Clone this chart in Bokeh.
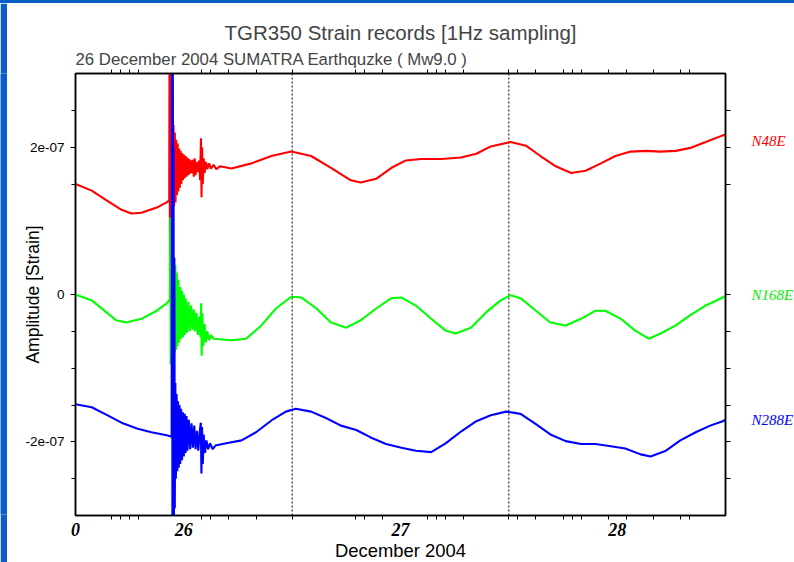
from bokeh.plotting import figure
from bokeh.layouts import row, column
from bokeh.models import (Range1d, LinearAxis, FixedTicker, Span, Title, Grid,
                          ColumnDataSource, Spacer)
from bokeh.core.properties import value
from bokeh.embed import file_html
from bokeh.resources import INLINE

# ---------------- data (time in hours from 26 Dec 00:00, strain in 1e-7) ----------------
red_t = [0.0, 1.8, 3.4, 5.1, 6.2, 7.3, 9.0, 10.1, 10.38,
         10.42, 10.46, 10.50, 10.55, 10.60, 10.66, 10.72, 10.78, 10.85, 10.92,
         11.00, 11.08, 11.16, 11.24, 11.32, 11.40, 11.48, 11.56, 11.64, 11.72,
         11.80, 11.90, 12.00, 12.10, 12.20, 12.30, 12.40, 12.50, 12.60, 12.70,
         12.80, 12.90, 13.00, 13.10, 13.20, 13.30, 13.40, 13.55, 13.70, 13.80,
         13.90, 13.96, 14.02, 14.10, 14.20, 14.30, 14.45, 14.60, 14.80, 15.00,
         15.30, 15.60, 16.00,
         17.25, 19.5, 21.7, 23.9, 26.1, 28.3, 30.5, 31.6, 33.3, 35.0,
         36.6, 38.3, 40.5, 42.7, 44.4, 46.0, 48.2, 49.9, 51.5, 53.2,
         54.9, 56.5, 58.2, 59.8, 61.5, 63.2, 64.8, 66.5, 68.1, 69.8,
         71.7, 72.0]
red_v = [1.50, 1.41, 1.28, 1.15, 1.10, 1.11, 1.18, 1.25, 1.28,
         4.0, 0.30, 4.0, 0.6, 3.2, 0.9, 2.6, 1.0, 2.3, 1.2,
         2.2, 1.25, 2.1, 1.35, 2.05, 1.4, 1.98, 1.45, 1.95, 1.5,
         1.92, 1.55, 1.9, 1.58, 1.88, 1.6, 1.86, 1.62, 1.84, 1.64,
         1.82, 1.65, 1.83, 1.60, 1.85, 1.62, 1.80, 1.66, 1.82, 1.55,
         2.12, 1.32, 2.0, 1.5, 1.85, 1.65, 1.80, 1.70, 1.78, 1.71,
         1.76, 1.70, 1.74,
         1.71, 1.78, 1.88, 1.94, 1.88, 1.72, 1.55, 1.52, 1.57, 1.72,
         1.82, 1.84, 1.84, 1.86, 1.91, 2.01, 2.07, 2.02, 1.88, 1.74,
         1.65, 1.68, 1.78, 1.88, 1.94, 1.95, 1.94, 1.95, 1.99, 2.07,
         2.16, 2.17]

green_t = [0.0, 1.8, 3.4, 4.5, 5.6, 7.3, 9.0, 10.1, 10.45,
           10.50, 10.55, 10.62, 10.68, 10.75, 10.82, 10.90, 10.98, 11.06, 11.14,
           11.22, 11.30, 11.40, 11.50, 11.60, 11.70, 11.80, 11.90, 12.00, 12.10,
           12.20, 12.35, 12.50, 12.65, 12.80, 12.95, 13.10, 13.25, 13.40, 13.55,
           13.70, 13.85, 13.92, 13.98, 14.05, 14.15, 14.30, 14.45, 14.60, 14.80,
           15.00, 15.30,
           17.25, 18.9, 20.6, 22.2, 23.9, 25.0, 26.7, 28.3, 30.0, 31.6,
           33.3, 35.0, 36.1, 37.7, 39.4, 41.0, 42.1, 43.8, 45.5, 47.1,
           48.2, 49.3, 51.0, 52.6, 54.3, 56.0, 57.6, 58.7, 60.4, 62.0,
           63.5, 64.8, 66.5, 68.1, 69.8, 71.7, 72.0]
green_v = [0.0, -0.08, -0.24, -0.35, -0.38, -0.33, -0.22, -0.12, -0.07,
           1.05, -0.95, 1.0, -0.9, 0.7, -0.85, 0.5, -0.8, 0.4, -0.75,
           0.3, -0.7, 0.2, -0.65, 0.1, -0.6, 0.05, -0.58, 0.0, -0.55,
           -0.05, -0.52, -0.1, -0.5, -0.15, -0.48, -0.2, -0.5, -0.25, -0.55,
           -0.3, -0.58, -0.12, -0.83, -0.25, -0.7, -0.4, -0.65, -0.5, -0.62,
           -0.55, -0.6,
           -0.62, -0.60, -0.42, -0.19, -0.03, -0.04, -0.19, -0.38, -0.45, -0.35,
           -0.19, -0.05, -0.04, -0.15, -0.33, -0.49, -0.53, -0.45, -0.24, -0.08,
           -0.01, -0.05, -0.22, -0.38, -0.42, -0.33, -0.22, -0.22, -0.33, -0.49,
           -0.60, -0.53, -0.42, -0.28, -0.15, -0.04, -0.02]

blue_t = [0.0, 1.8, 3.4, 5.1, 6.8, 8.4, 10.1, 10.65,
          10.70, 10.74, 10.78, 10.82, 10.86, 10.90, 10.95, 11.00, 11.06, 11.12,
          11.20, 11.28, 11.36, 11.44, 11.52, 11.60, 11.70, 11.80, 11.90, 12.00,
          12.10, 12.20, 12.30, 12.40, 12.55, 12.70, 12.85, 13.00, 13.15, 13.30,
          13.45, 13.60, 13.75, 13.88, 13.95, 14.02, 14.10, 14.20, 14.35, 14.50,
          14.70, 14.90, 15.20, 15.50,
          16.7, 18.4, 20.0, 21.7, 23.3, 24.4, 26.1, 27.8, 29.4, 31.1,
          32.7, 34.4, 36.1, 37.7, 39.4, 41.0, 42.7, 44.4, 46.0, 47.7,
          49.3, 51.0, 52.6, 54.3, 56.0, 57.6, 59.3, 60.9, 62.6, 63.7,
          65.4, 67.0, 68.7, 70.3, 71.7, 72.0]
blue_v = [-1.49, -1.53, -1.63, -1.74, -1.82, -1.87, -1.91, -1.93,
          4.0, -4.0, 4.0, -4.0, 2.0, -3.5, 0.5, -2.9, -1.2, -2.5,
          -1.35, -2.4, -1.45, -2.35, -1.5, -2.3, -1.55, -2.25, -1.6, -2.2,
          -1.62, -2.15, -1.65, -2.12, -1.7, -2.1, -1.75, -2.08, -1.78, -2.1,
          -1.85, -2.12, -1.88, -1.74, -2.43, -1.8, -2.3, -1.9, -2.15, -1.98,
          -2.1, -2.02, -2.1, -2.05,
          -2.02, -1.98, -1.87, -1.71, -1.59, -1.55, -1.59, -1.68, -1.78, -1.84,
          -1.94, -2.03, -2.08, -2.12, -2.14, -2.02, -1.86, -1.72, -1.64, -1.59,
          -1.62, -1.76, -1.90, -1.99, -2.03, -2.03, -2.06, -2.09, -2.17, -2.20,
          -2.12, -1.98, -1.87, -1.78, -1.72, -1.70]

x_label_pos = [0, 12, 36, 60]
x_label_txt = ["0", "26", "27", "28"]
x_minor = [4, 5, 6, 7, 14, 15, 17, 20, 24, 31, 32, 34, 39, 40, 41, 43,
           48, 49, 51, 54, 55, 56, 59, 61, 64, 67, 68]
day_lines = [24, 48]
y_label_pos = [-2, 0, 2]
y_label_txt = ["-2e-07", "0", "2e-07"]
y_minor = [2.5, 1.5, -0.5, -1.0, -1.5, -2.5]

channels = ["N48E", "N168E", "N288E"]
channel_y = [2.09, 0.0, -1.71]
channel_col = ["#ff0000", "#00ee00", "#0000ff"]

# ---------------- styling constants ----------------
SANS = "Liberation Sans"
SERIF = "Liberation Serif"
SLIDE_BLUE = "#0a5fc6"
TOP_STRIP, LEFT_STRIP = 3, 7
BORDER_TOP, BORDER_BOTTOM = 70, 47
FRAME_W, FRAME_H = 650, 442
MAIN_LEFT, MAIN_RIGHT = 68, 10
RIGHT_W = 794 - LEFT_STRIP - MAIN_LEFT - FRAME_W - MAIN_RIGHT
LABEL_INSET = 16


def strip(w, h):
    f = figure(width=w, height=h, min_border=0, toolbar_location=None,
               x_axis_location=None, y_axis_location=None, title=None,
               output_backend="svg", outline_line_color=None,
               background_fill_color=SLIDE_BLUE, border_fill_color=SLIDE_BLUE)
    f.center = [r for r in f.center if not isinstance(r, Grid)]
    return f


# ---------------- main figure ----------------
p = figure(frame_width=FRAME_W, frame_height=FRAME_H,
           x_range=Range1d(0, 72), y_range=Range1d(-3, 3),
           output_backend="svg", toolbar_location=None,
           x_axis_location=None, y_axis_location=None, title=None,
           min_border_left=MAIN_LEFT, min_border_right=MAIN_RIGHT,
           min_border_top=BORDER_TOP, min_border_bottom=BORDER_BOTTOM,
           background_fill_color="white", border_fill_color="white",
           outline_line_color="black", outline_line_width=1.5)
p.center = [r for r in p.center if not isinstance(r, Grid)]

xb = LinearAxis(ticker=FixedTicker(ticks=x_label_pos, minor_ticks=x_minor),
                major_label_overrides={k: v for k, v in zip(x_label_pos, x_label_txt)},
                axis_label="December 2004", axis_label_text_font=SANS,
                axis_label_text_font_size="18.4px", axis_label_text_font_style="normal",
                axis_label_standoff=1, axis_label_text_color="black",
                major_label_text_font=SERIF, major_label_text_font_style="bold italic",
                major_label_text_font_size="18px", major_label_standoff=3,
                major_tick_out=0, major_tick_in=0, minor_tick_out=4, minor_tick_in=0,
                axis_line_width=1.5, major_label_text_color="black")
p.add_layout(xb, "below")

# top axis: ticks only (no major ticks -> no labels)
xa = LinearAxis(ticker=FixedTicker(ticks=[], minor_ticks=x_minor),
                major_label_standoff=0, major_tick_out=0, major_tick_in=0,
                minor_tick_out=4, minor_tick_in=0, axis_line_width=1.5)
p.add_layout(xa, "above")

yl = LinearAxis(ticker=FixedTicker(ticks=y_label_pos, minor_ticks=y_minor),
                major_label_overrides={k: v for k, v in zip(y_label_pos, y_label_txt)},
                major_label_text_font=SANS, major_label_text_font_size="13.5px",
                major_label_standoff=6, major_label_text_color="black",
                major_tick_out=5, major_tick_in=0, minor_tick_out=4, minor_tick_in=0,
                axis_line_width=1.5,
                axis_label="Amplitude [Strain]", axis_label_text_font=SANS,
                axis_label_text_font_size="17.5px", axis_label_text_font_style="normal",
                axis_label_text_color="black", axis_label_standoff=-21)
p.add_layout(yl, "left")

# right axis: ticks only
yr = LinearAxis(ticker=FixedTicker(ticks=[], minor_ticks=y_label_pos + y_minor),
                major_label_standoff=0, major_tick_out=0, major_tick_in=0,
                minor_tick_out=5, minor_tick_in=0, axis_line_width=1.5)
p.add_layout(yr, "right")

p.add_layout(Title(text="26 December 2004 SUMATRA Earthquzke ( Mw9.0 )", align="left",
                   text_font=SANS, text_font_size="16.8px", text_font_style="normal",
                   standoff=2), "above")
p.add_layout(Title(text="TGR350 Strain records [1Hz sampling]", align="center",
                   text_font=SANS, text_font_size="20.5px", text_font_style="normal",
                   standoff=6), "above")

for d in day_lines:
    p.add_layout(Span(location=d, dimension="height", line_color="black",
                      line_width=1, line_dash="2 2", level="underlay"))

p.line(red_t, red_v, line_color="#ff0000", line_width=2.1)
p.line(green_t, green_v, line_color="#00ff00", line_width=2.1)
p.line(blue_t, blue_v, line_color="#0000ff", line_width=2.1)

# ---------------- right-hand channel names (same vertical scale) ----------------
pr = figure(width=RIGHT_W, frame_height=FRAME_H,
            x_range=Range1d(0, RIGHT_W), y_range=Range1d(-3, 3),
            output_backend="svg", toolbar_location=None,
            x_axis_location=None, y_axis_location=None, title=None,
            min_border_left=0, min_border_right=0,
            min_border_top=BORDER_TOP, min_border_bottom=BORDER_BOTTOM,
            outline_line_color=None, background_fill_color="white",
            border_fill_color="white")
pr.center = [r for r in pr.center if not isinstance(r, Grid)]
src = ColumnDataSource(dict(x=[LABEL_INSET] * len(channels), y=channel_y,
                            text=channels, color=channel_col))
pr.text(x="x", y="y", text="text", text_color="color", source=src,
        text_font=value(SERIF), text_font_style="italic", text_font_size="15px",
        text_align="left", text_baseline="middle")

main_h = BORDER_TOP + FRAME_H + BORDER_BOTTOM
top_strip = Spacer(width=794, height=TOP_STRIP,
                   styles={"background-color": SLIDE_BLUE})
layout = column(top_strip,
                row(strip(LEFT_STRIP, main_h), p, pr, spacing=0),
                spacing=0)

open("out.html", "w").write(file_html(layout, INLINE))
